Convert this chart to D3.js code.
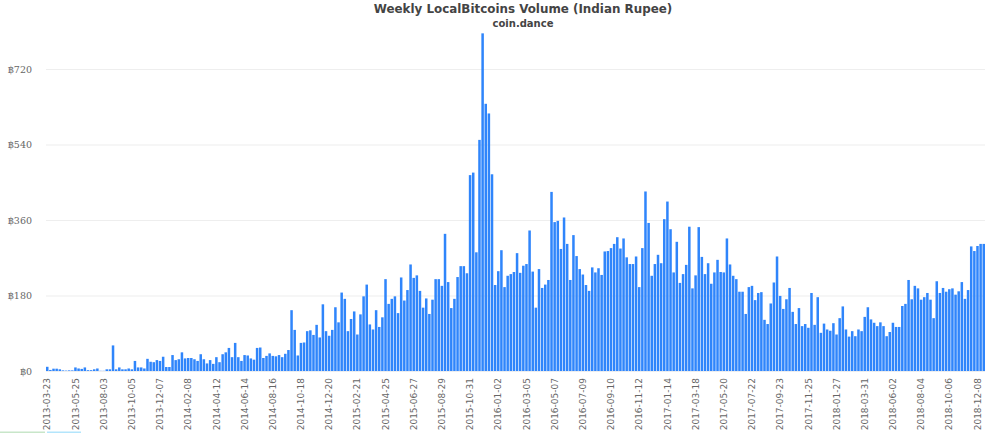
<!DOCTYPE html>
<html>
<head>
<meta charset="utf-8">
<script src="https://cdn.jsdelivr.net/npm/d3@7"></script>
<style>
    html, body { margin: 0; padding: 0; background: #fff; overflow: hidden; }
</style>
</head>
<body>
<div id="chart"></div>
<script>
// Weekly volume in BTC, one entry per bar
const volumes = [
    10, 2.5, 5.5, 5.5, 4, 1.5, 1, 1.5, 1.5, 8.5,
    6, 5, 8.5, 2, 2, 4, 6, 0.5, 0.5, 4,
    4, 61, 4, 8.5, 4, 4, 6, 4, 24, 8.5,
    8.5, 6, 29, 22, 21, 26, 24, 34, 9.5, 9.5,
    38, 26, 28, 44.5, 30, 31, 31, 28, 24, 40,
    28, 18, 26, 17, 33, 21, 40, 44.5, 55, 33,
    67, 33, 24, 38, 37, 30, 27, 55, 56, 31,
    36, 42, 36, 35, 38, 33, 41, 50, 145, 98,
    37, 67, 68, 95, 97, 86, 110, 80, 159, 95,
    84, 98, 152, 116, 187, 172, 95, 124, 142, 87,
    135, 178, 206, 111, 99, 145, 105, 128, 219, 160,
    172, 178, 138, 223, 168, 193, 254, 222, 228, 191,
    151, 173, 136, 170, 219, 219, 203, 327, 212, 150,
    172, 224, 250, 250, 233, 467, 473, 283, 551, 805,
    637, 614, 469, 205, 238, 288, 200, 227, 231, 236,
    281, 234, 251, 255, 335, 237, 151, 243, 198, 206,
    217, 427, 355, 358, 291, 366, 303, 217, 324, 274,
    243, 230, 205, 191, 247, 235, 245, 229, 285, 286,
    293, 303, 319, 292, 316, 271, 255, 255, 273, 200,
    293, 428, 353, 227, 255, 277, 257, 362, 404, 338,
    235, 308, 210, 231, 253, 344, 197, 228, 343, 272,
    231, 257, 208, 235, 265, 236, 235, 316, 254, 227,
    219, 189, 189, 136, 200, 203, 169, 186, 188, 122,
    112, 161, 211, 273, 179, 148, 171, 198, 141, 112,
    150, 107, 112, 103, 186, 110, 176, 91, 113, 99,
    96, 114, 87, 126, 154, 99, 82, 95, 83, 99,
    95, 129, 152, 123, 115, 107, 116, 107, 83, 93,
    115, 105, 105, 155, 160, 217, 171, 203, 197, 170,
    176, 186, 170, 126, 214, 186, 198, 189, 195, 197,
    182, 190, 212, 172, 193, 297, 286, 298, 303, 303
];

// One label every 9 bars
const tickLabels = [
    "2013-03-23", "2013-05-25", "2013-08-03", "2013-10-05", "2013-12-07", "2014-02-08", "2014-04-12",
    "2014-06-14", "2014-08-16", "2014-10-18", "2014-12-20", "2015-02-21", "2015-04-25", "2015-06-27",
    "2015-08-29", "2015-10-31", "2016-01-02", "2016-03-05", "2016-05-07", "2016-07-09", "2016-09-10",
    "2016-11-12", "2017-01-14", "2017-03-18", "2017-05-20", "2017-07-22", "2017-09-23", "2017-11-25",
    "2018-01-27", "2018-03-31", "2018-06-02", "2018-08-04", "2018-10-06", "2018-12-08"
];
const labelStep = 9;
const yTicks = [0, 180, 360, 540, 720];

// Chart dimensions and margins
const width = 1000;
const height = 433;
const margin = { left: 46, right: 15, top: 69, bottom: 62 };

const x_scale = d3.scaleBand()
    .domain(d3.range(volumes.length))
    .range([margin.left, width - margin.right])
    .paddingInner(0.2)
    .paddingOuter(0);

const y_scale = d3.scaleLinear()
    .domain([0, 720])
    .range([height - margin.bottom, margin.top]);

const svg = d3.select("#chart")
    .append("svg")
    .attr("width", width)
    .attr("height", height)
    .attr("viewBox", [0, 0, width, height])
    .style("display", "block");

// Gridlines and y labels
svg.append("g")
    .attr("transform", `translate(${margin.left}, 0)`)
    .call(d3.axisLeft(y_scale)
        .tickValues(yTicks)
        .tickSize(-(width - margin.left - margin.right))
        .tickPadding(14)
        .tickFormat((d) => `฿${d}`))
    .call((g) => g.select(".domain").remove())
    .call((g) => g.selectAll("line").attr("stroke", "#eeeeee").attr("stroke-width", 1.2))
    .call((g) => g.selectAll("text")
        .attr("font-family", "'DejaVu Serif', serif")
        .attr("font-size", 9.5)
        .attr("fill", "#666666"));

// Bars
svg.append("g")
    .selectAll("rect")
    .data(volumes)
    .join("rect")
        .attr("fill", "#1f7cfb")
        .attr("fill-opacity", 0.93)
        .attr("x", (d, i) => x_scale(i))
        .attr("y", (d) => y_scale(d))
        .attr("width", x_scale.bandwidth())
        .attr("height", (d) => y_scale(0) - y_scale(d));

// x labels, rotated
svg.append("g")
    .attr("transform", `translate(0, ${height - margin.bottom})`)
    .call(d3.axisBottom(x_scale)
        .tickValues(tickLabels.map((d, i) => i * labelStep))
        .tickSize(0)
        .tickFormat((d) => tickLabels[d / labelStep]))
    .call((g) => g.select(".domain").remove())
    .call((g) => g.selectAll("text")
        .attr("font-family", "'DejaVu Sans', sans-serif")
        .attr("font-size", 9)
        .attr("fill", "#666666")
        .attr("text-anchor", "end")
        .attr("dy", "0.35em")
        .attr("transform", "translate(0, 7) rotate(-90)")
        .attr("y", 0));

// Title and subtitle
svg.append("text")
    .attr("x", 523)
    .attr("y", 12.5)
    .attr("text-anchor", "middle")
    .attr("font-family", "'DejaVu Sans', sans-serif")
    .attr("font-size", 11.9)
    .attr("font-weight", "bold")
    .attr("fill", "#444444")
    .text("Weekly LocalBitcoins Volume (Indian Rupee)");

svg.append("text")
    .attr("x", 523)
    .attr("y", 27)
    .attr("text-anchor", "middle")
    .attr("font-family", "'DejaVu Sans', sans-serif")
    .attr("font-size", 10)
    .attr("font-weight", "bold")
    .attr("fill", "#444444")
    .text("coin.dance");

// Cut-off strips at the bottom edge of the page
svg.append("rect").attr("x", 0).attr("y", 431.5).attr("width", 45).attr("height", 1.5).attr("fill", "#c8e6c9");
svg.append("rect").attr("x", 47).attr("y", 431.5).attr("width", 34).attr("height", 1.5).attr("fill", "#b3e5fc");
</script>
</body>
</html>
